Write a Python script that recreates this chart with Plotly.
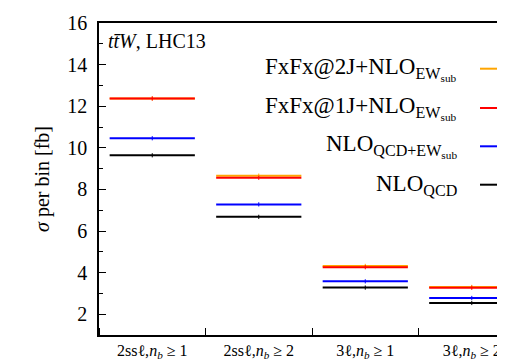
import plotly.graph_objects as go

bins = ["2ssℓ,<i>n<sub>b</sub></i> ≥ 1", "2ssℓ,<i>n<sub>b</sub></i> ≥ 2",
        "3ℓ,<i>n<sub>b</sub></i> ≥ 1", "3ℓ,<i>n<sub>b</sub></i> ≥ 2"]
bin_centers = [0.5, 1.5, 2.5, 3.5]

nlo_qcd = [9.64, 6.68, 3.28, 2.54]
nlo_qcd_ew = [10.46, 7.28, 3.58, 2.78]
fxfx_1j = [12.37, 8.56, 4.26, 3.27]
fxfx_2j = [12.37, 8.66, 4.32, 3.31]

series = [
    ("FxFx@2J+NLO<sub>EW<sub>sub</sub></sub>", fxfx_2j, "#FFA500"),
    ("FxFx@1J+NLO<sub>EW<sub>sub</sub></sub>", fxfx_1j, "#FF0000"),
    ("NLO<sub>QCD+EW<sub>sub</sub></sub>", nlo_qcd_ew, "#0000FF"),
    ("NLO<sub>QCD</sub>", nlo_qcd, "#000000"),
]

FONT = "Liberation Serif, DejaVu Serif, serif"
fig = go.Figure()

for name, vals, col in series:
    fig.add_trace(go.Scatter(
        x=bin_centers, y=vals, mode="markers", name=name,
        marker=dict(symbol="line-ns", size=3, color=col, line=dict(color=col, width=1)),
        error_x=dict(type="constant", value=0.4, width=0, thickness=2, color=col),
        showlegend=False, hoverinfo="skip"))

row_y = [60.7, 100, 138.3, 176.7]
H = 362
for (name, vals, col), yy in zip(series, row_y):
    yp = 1 - (yy - 15) / (H - 15 - 35)
    fig.add_annotation(xref="paper", yref="paper", x=(451 - 91) / (505 - 91), y=yp,
                       text=name, showarrow=False, xanchor="right", yanchor="middle",
                       font=dict(family=FONT, size=23, color="black"))
    fig.add_shape(type="line", xref="paper", yref="paper",
                  x0=(472 - 91) / 414, x1=(492 - 91) / 414, y0=yp, y1=yp,
                  line=dict(color=col, width=2))

fig.add_annotation(xref="paper", yref="paper", x=(98 - 91) / 414, y=1 - (33 - 15) / 312,
                   text="<i>tt̄W</i>, LHC13", showarrow=False, xanchor="left", yanchor="middle",
                   font=dict(family=FONT, size=20, color="black"))

fig.update_layout(
    width=505, height=362,
    margin=dict(l=91, r=0, t=15, b=35),
    plot_bgcolor="white", paper_bgcolor="white",
    font=dict(family=FONT, size=17, color="black"),
    xaxis=dict(range=[0, 3.887], tickmode="array", tickvals=bin_centers, ticktext=bins,
               ticks="", ticklen=0, showgrid=False, zeroline=False,
               showline=True, linecolor="black", linewidth=1.5, mirror=True,
               ticklabelstandoff=0, tickfont=dict(family=FONT, size=16),
               minor=dict(tick0=0, dtick=1, ticks="inside", ticklen=7, tickcolor="black", showgrid=False)),
    yaxis=dict(range=[1, 16], tick0=0, dtick=2, ticks="inside", ticklen=7, tickcolor="black",
               showgrid=False, zeroline=False, showline=True, linecolor="black", linewidth=1.5,
               ticklabelstandoff=6, tickfont=dict(family=FONT, size=20),
               title=dict(text="<i>σ</i> per bin [fb]", font=dict(family=FONT, size=20), standoff=12),
               minor=dict(tick0=0, dtick=1, ticks="inside", ticklen=4, tickcolor="black", showgrid=False)),
)

fig.write_html("out.html")
